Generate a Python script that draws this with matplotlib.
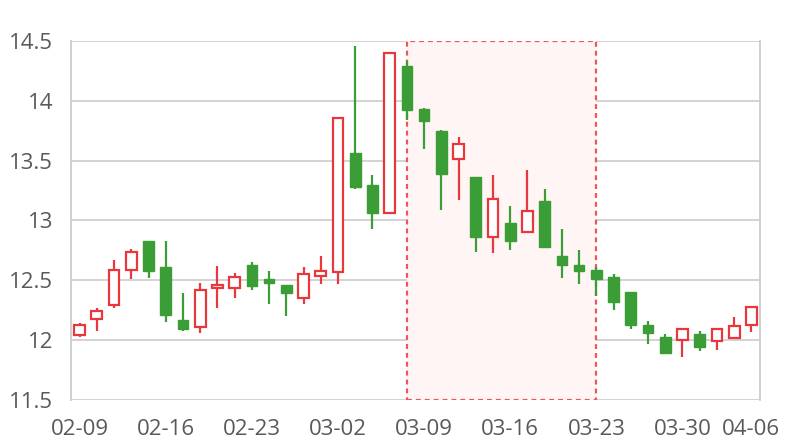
import numpy as np
import matplotlib
matplotlib.use('Agg')
import matplotlib.pyplot as plt
from matplotlib.ticker import FormatStrFormatter

dates = ['02-09', '02-10', '02-11', '02-12', '02-13',
         '02-16', '02-17', '02-18', '02-19', '02-20',
         '02-23', '02-24', '02-25', '02-26', '02-27',
         '03-02', '03-03', '03-04', '03-05', '03-06',
         '03-09', '03-10', '03-11', '03-12', '03-13',
         '03-16', '03-17', '03-18', '03-19', '03-20',
         '03-23', '03-24', '03-25', '03-26', '03-27',
         '03-30', '03-31', '04-01', '04-02', '04-06']

opens = [12.04, 12.18, 12.29, 12.59, 12.83, 12.61, 12.17, 12.11, 12.44, 12.44,
         12.63, 12.51, 12.46, 12.35, 12.54, 12.57, 13.56, 13.30, 13.06, 14.29,
         13.93, 13.75, 13.51, 13.36, 12.86, 12.98, 12.90, 13.16, 12.70, 12.63,
         12.59, 12.53, 12.40, 12.13, 12.03, 12.00, 12.05, 11.99, 12.02, 12.13]
closes = [12.13, 12.24, 12.59, 12.74, 12.58, 12.21, 12.09, 12.42, 12.46, 12.53,
          12.45, 12.48, 12.39, 12.55, 12.58, 13.86, 13.28, 13.06, 14.40, 13.92,
          13.83, 13.39, 13.64, 12.86, 13.18, 12.83, 13.08, 12.78, 12.63, 12.58,
          12.51, 12.32, 12.13, 12.06, 11.89, 12.09, 11.94, 12.09, 12.12, 12.28]
highs = [12.14, 12.27, 12.67, 12.76, 12.83, 12.83, 12.39, 12.48, 12.62, 12.56,
         12.65, 12.58, 12.46, 12.61, 12.70, 13.86, 14.46, 13.38, 14.40, 14.33,
         13.94, 13.76, 13.70, 13.36, 13.38, 13.12, 13.42, 13.26, 12.93, 12.75,
         12.61, 12.55, 12.40, 12.16, 12.05, 12.09, 12.08, 12.09, 12.19, 12.28]
lows = [12.03, 12.08, 12.27, 12.51, 12.52, 12.15, 12.08, 12.06, 12.27, 12.35,
        12.42, 12.30, 12.20, 12.30, 12.47, 12.47, 13.26, 12.93, 13.06, 13.84,
        13.60, 13.09, 13.17, 12.74, 12.73, 12.75, 12.90, 12.78, 12.52, 12.47,
        12.37, 12.25, 12.09, 11.97, 11.89, 11.86, 11.91, 11.92, 12.01, 12.07]

area_from = '03-06'
area_to = '03-23'
tick_dates = ['02-09', '02-16', '02-23', '03-02', '03-09', '03-16', '03-23', '03-30', '04-06']

up_color = '#e8383d'
down_color = '#3a9d35'

plt.rcParams['font.family'] = ['Open Sans', 'DejaVu Sans']

fig = plt.figure(figsize=(8, 4.4), dpi=100)
ax = fig.add_axes([71 / 800, 40 / 440, 689 / 800, 359 / 440])

x = np.arange(len(dates))
o = np.array(opens)
c = np.array(closes)
up = c >= o

# выделенная область
ax.axvspan(dates.index(area_from), dates.index(area_to), facecolor='#fff5f5',
           edgecolor='#f0555a', linestyle=(0, (2.2, 1.8)), linewidth=1.6, zorder=1)

ax.vlines(x[up], np.array(lows)[up], np.array(highs)[up], color=up_color, linewidth=1.6, zorder=3)
ax.vlines(x[~up], np.array(lows)[~up], np.array(highs)[~up], color=down_color, linewidth=1.6, zorder=3)

w = 0.62
ax.bar(x[up], (c - o)[up], bottom=o[up], width=w, facecolor='white',
       edgecolor=up_color, linewidth=1.6, zorder=4)
ax.bar(x[~up], (o - c)[~up], bottom=c[~up], width=w, facecolor=down_color,
       edgecolor=down_color, linewidth=1, zorder=4)

ax.set_xlim(-0.5, len(dates) - 0.5)
ax.set_ylim(11.5, 14.5)
ax.set_yticks([11.5, 12, 12.5, 13, 13.5, 14, 14.5])
ax.yaxis.set_major_formatter(FormatStrFormatter('%g'))
ax.set_xticks([dates.index(d) for d in tick_dates])
ax.set_xticklabels(tick_dates)

ax.grid(axis='y', color='#d0d0d0', linewidth=1.3, zorder=0)
ax.set_axisbelow(True)
for s in ax.spines.values():
    s.set_color('#cccccc')
    s.set_linewidth(1.3)
ax.spines['top'].set_visible(False)
ax.spines['bottom'].set_visible(False)
ax.tick_params(length=0, labelsize=16, labelcolor='#595959')
ax.tick_params(axis='y', pad=13)
ax.tick_params(axis='x', pad=14)

fig.savefig('out.png', dpi=100)
